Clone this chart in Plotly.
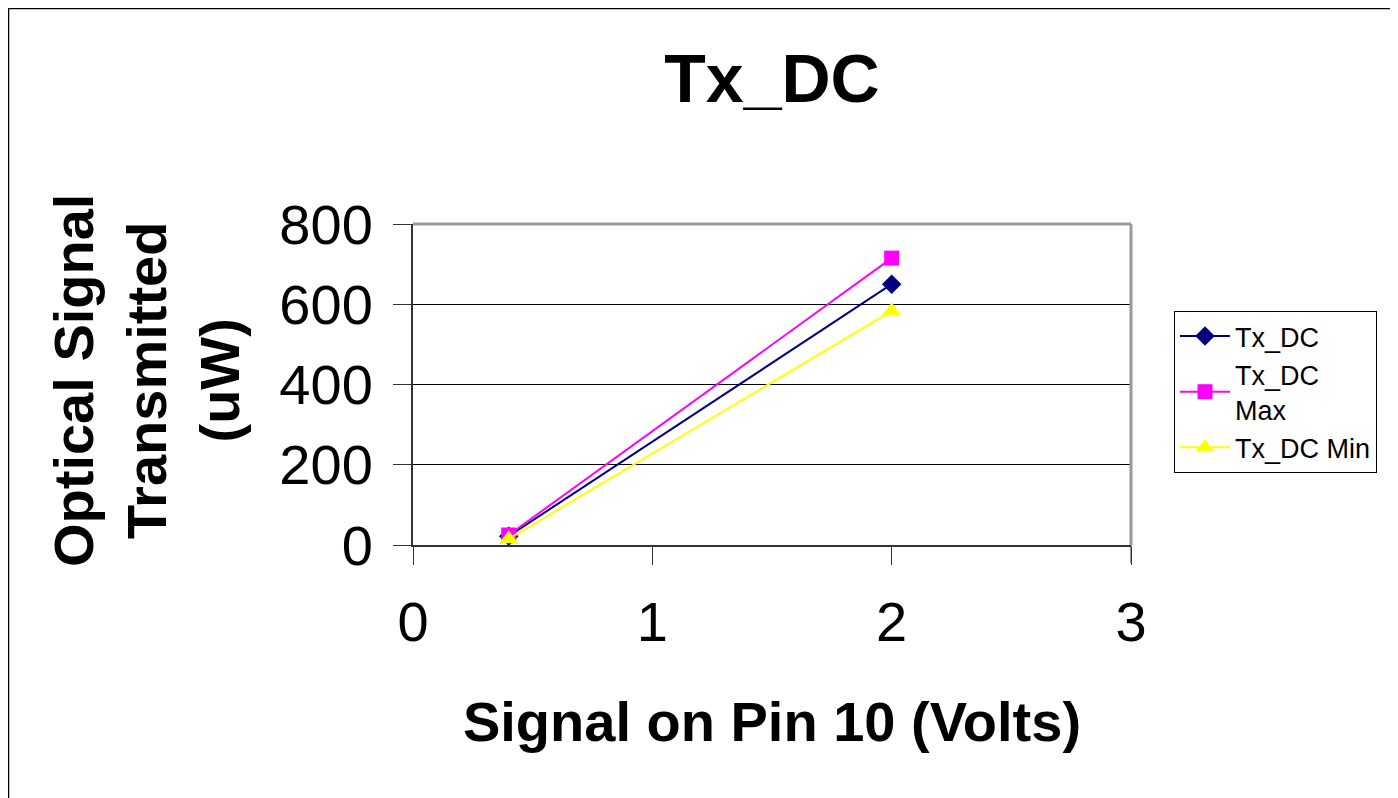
import plotly.graph_objects as go

x_volts = [0.4, 2.0]
tx_dc = [22, 650]
tx_dc_max = [25, 715]
tx_dc_min = [15, 583]

series_names = ["Tx_DC", "Tx_DC<br>Max", "Tx_DC Min"]
series_colors = ["#000080", "#FF00FF", "#FFFF00"]
series_symbols = ["diamond", "square", "triangle-up"]
series_sizes = [15, 15, 17]

x_ticks = [0, 1, 2, 3]
y_ticks = [0, 200, 400, 600, 800]

FONT = "Liberation Sans, Arial, sans-serif"

fig = go.Figure()
for name, vals, col, sym, sz in zip(series_names, [tx_dc, tx_dc_max, tx_dc_min],
                                    series_colors, series_symbols, series_sizes):
    fig.add_trace(go.Scatter(
        x=x_volts, y=vals, name=name, mode="lines+markers",
        line=dict(color=col, width=2),
        marker=dict(color=col, symbol=sym, size=sz, line=dict(width=0)),
    ))

# figure coordinates (page body adds 8px offset)
W, H = 1390, 790
L, R, T, B = 405, 1123, 216, 537
pw, ph = R - L, B - T

def px(xp):
    return (xp - L) / pw

def py(yp):
    return (B - yp) / ph

fig.update_layout(
    width=W, height=H,
    margin=dict(l=L, r=W - R, t=T, b=H - B, pad=0),
    paper_bgcolor="white", plot_bgcolor="white",
    font=dict(family=FONT, color="black"),
    title=dict(text="<b>Tx_DC</b>", x=0.5, xref="paper", xanchor="center",
               y=1 - 70 / H, yref="container", yanchor="middle",
               font=dict(size=68, family=FONT, color="black")),
    showlegend=True,
    legend=dict(x=px(1166), y=py(303), xanchor="left", yanchor="top",
                bordercolor="black", borderwidth=1, bgcolor="white",
                font=dict(size=27, family=FONT, color="black"),
                itemwidth=50, tracegroupgap=0),
    xaxis=dict(range=[0, 3], tickvals=x_ticks, ticks="outside", ticklen=18,
               tickwidth=1, tickcolor="#333333", showgrid=False, zeroline=False,
               showline=True, linecolor="#333333", linewidth=2,
               tickfont=dict(size=56, family=FONT, color="black"),
               ticklabelstandoff=9,
               title=dict(text="<b>Signal on Pin 10 (Volts)</b>", standoff=50,
                          font=dict(size=56, family=FONT, color="black"))),
    yaxis=dict(range=[0, 800], tickvals=y_ticks, ticks="outside", ticklen=18,
               tickwidth=1, tickcolor="#333333", showgrid=True, gridcolor="black",
               gridwidth=1, zeroline=False,
               showline=True, linecolor="#333333", linewidth=2,
               tickfont=dict(size=56, family=FONT, color="black"),
               ticklabelstandoff=9),
    annotations=[
        dict(text="<b>Optical Signal<br>Transmitted<br>(uW)</b>", textangle=-90,
             xref="paper", yref="paper", x=px(138), y=py(373),
             xanchor="center", yanchor="middle", showarrow=False,
             font=dict(size=56, family=FONT, color="black")),
    ],
    shapes=[
        dict(type="line", xref="paper", yref="paper", x0=0, x1=1, y0=1, y1=1,
             line=dict(color="#999999", width=3), layer="above"),
        dict(type="line", xref="paper", yref="paper", x0=1, x1=1, y0=0, y1=1,
             line=dict(color="#999999", width=3), layer="above"),
        dict(type="line", xref="paper", yref="paper", x0=1, x1=1, y0=0, y1=py(555),
             line=dict(color="#333333", width=1), layer="above"),
        dict(type="rect", xref="paper", yref="paper", x0=px(0.5), x1=px(1384),
             y0=py(810), y1=py(0.5), line=dict(color="black", width=1.5),
             fillcolor="rgba(0,0,0,0)", layer="below"),
    ],
)

fig.write_html("out.html")
